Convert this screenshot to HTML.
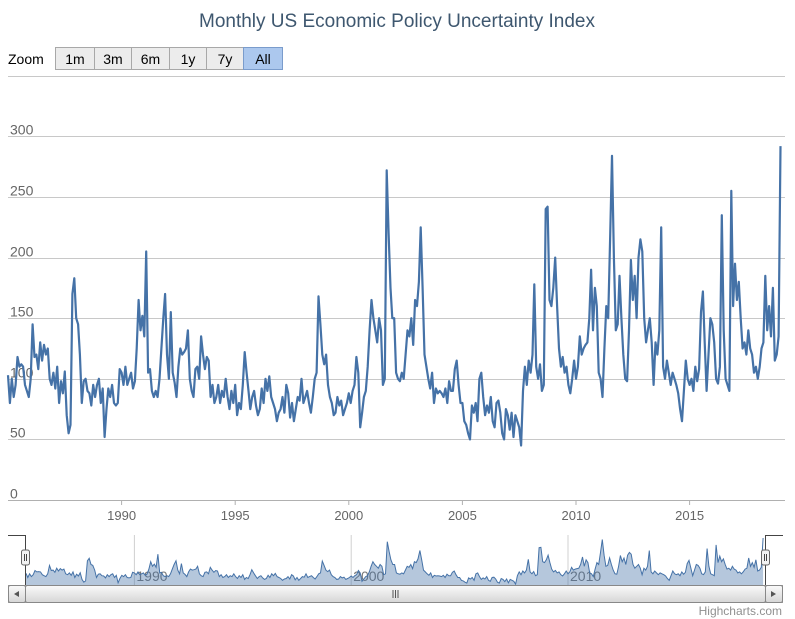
<!DOCTYPE html>
<html><head><meta charset="utf-8"><style>
body{margin:0;background:#fff;width:795px;height:619px;overflow:hidden;font-family:"Liberation Sans",sans-serif}
svg{display:block}
</style></head><body>
<svg id="chart" width="795" height="619" xmlns="http://www.w3.org/2000/svg">
<text x="397" y="27" text-anchor="middle" font-size="19" fill="#3E576F">Monthly US Economic Policy Uncertainty Index</text>
<text x="8" y="64" font-size="14" fill="#000">Zoom</text>
<g id="buttons"></g>
<g id="grid"></g>
<g id="xaxis"></g>
<g id="series"></g>
<g id="nav"></g>
<text x="782" y="615" text-anchor="end" font-size="12" fill="#909090">Highcharts.com</text>
</svg>
<script>
const startYear = 1985;
const values = [
103,80,100,85,95,118,110,112,110,95,90,85,
100,145,118,120,108,130,115,128,120,125,100,95,
105,92,110,80,98,88,106,70,55,62,170,183,
150,145,120,80,98,100,90,88,78,95,85,95,
100,80,92,52,75,92,85,95,80,78,80,108,
105,95,110,95,100,105,92,98,125,165,140,152,
135,205,105,108,90,85,90,85,100,125,150,170,
120,100,155,105,97,85,110,125,120,122,125,140,
100,90,85,108,110,100,135,120,108,118,115,85,
95,80,85,95,80,90,85,100,85,75,90,80,
95,70,80,75,95,122,105,90,75,85,90,78,
70,75,92,80,100,90,102,85,80,75,65,72,
75,85,72,95,88,68,80,65,75,85,82,100,
80,85,90,80,72,85,100,105,168,145,120,112,
120,95,85,80,70,72,85,78,82,70,75,80,
88,80,90,95,118,105,60,72,85,90,110,140,
165,150,140,130,150,140,95,100,272,220,175,150,
150,105,100,98,105,100,120,140,135,150,128,165,
160,180,225,175,120,110,100,92,105,80,92,88,
90,88,85,92,80,98,90,90,108,115,95,80,
80,65,62,55,50,78,72,80,65,100,105,85,
70,78,72,85,65,60,80,82,72,55,50,75,
70,58,72,52,70,65,60,45,90,110,95,115,
105,120,178,110,100,112,90,95,240,242,165,160,
175,200,160,125,110,118,105,110,95,88,100,115,
100,110,135,120,125,128,130,150,190,140,175,160,
105,100,85,125,160,150,215,284,200,140,145,185,
150,120,100,98,140,198,165,185,150,200,215,205,
150,130,140,150,130,95,130,120,140,225,110,100,
115,105,95,105,100,95,88,75,65,90,115,100,
95,100,90,110,98,108,155,172,130,90,120,150,
145,130,100,96,110,235,140,100,95,90,255,160,
195,165,180,150,125,130,120,140,125,120,105,110,
100,110,125,130,185,140,160,135,175,115,120,135,
292
];
const yTicks = [0,50,100,150,200,250,300,350];
const xTicks = [1990,1995,2000,2005,2010,2015];
const navTicks = [1990,2000,2010];
const buttonLabels = ['1m','3m','6m','1y','7y','All'];

const NS='http://www.w3.org/2000/svg';
function mk(tag,attrs,parent){const e=document.createElementNS(NS,tag);for(const k in attrs)e.setAttribute(k,attrs[k]);parent.appendChild(e);return e;}
const xS=t=>8+(t-1985)*22.72;
const yS=v=>500-v*1.212;
const nx=t=>26+(t-1985)*21.68;
const ny=v=>585-(v-40)/(292-40)*47;
const tOf=i=>startYear+i/12;

const bx=[55,94,131,169,206,243,282];
const bg=document.getElementById('buttons');
buttonLabels.forEach((l,i)=>{
  const sel=i===buttonLabels.length-1;
  const r=mk('rect',{x:bx[i]+0.5,y:47.5,width:bx[i+1]-bx[i],height:22,fill:sel?'#acc8ee':'#ececec',stroke:sel?'#7a9ccc':'#a8a8a8'},bg);
  
  
  const t=mk('text',{x:(bx[i]+bx[i+1])/2+0.5,y:64,'text-anchor':'middle','font-size':14,fill:'#000'},bg);
  t.textContent=l;
  
  
});

const g=document.getElementById('grid');
yTicks.forEach(v=>{
  const y=Math.round(yS(v))+0.5;
  const ln=mk('line',{x1:8,x2:785,y1:y,y2:y,stroke:'#c8c8c8','stroke-width':1},g);
  
  
  if(v<350){
    const t=mk('text',{x:10,y:y-2,'font-size':14,fill:'#666'},g);
    t.textContent=v;
    
    
  }
});
const xa=document.getElementById('xaxis');
mk('line',{x1:8,x2:785,y1:500.5,y2:500.5,stroke:'#b0b0b0'},xa);
xTicks.forEach(yr=>{
  const x=xS(yr);
  mk('line',{x1:x,x2:x,y1:500,y2:505,stroke:'#b0b0b0'},xa);
  const t=mk('text',{x:x,y:520,'text-anchor':'middle','font-size':13,fill:'#666'},xa);
  t.textContent=yr;
  
  
});

const s=document.getElementById('series');
let d=values.map((v,i)=>(i?'L':'M')+xS(tOf(i)).toFixed(1)+','+yS(v).toFixed(1)).join('');
const p=mk('path',{d:d,fill:'none',stroke:'#4572A7','stroke-width':2.2,'stroke-linejoin':'round'},s);



const n=document.getElementById('nav');
navTicks.forEach(yr=>{const x=nx(yr);mk('line',{x1:x,x2:x,y1:535,y2:585,stroke:'#d0d0d0'},n);const t=mk('text',{x:x+2,y:581,'font-size':14,fill:'#777'},n);t.textContent=yr;});
let nd=values.map((v,i)=>(i?'L':'M')+nx(tOf(i)).toFixed(1)+','+ny(v).toFixed(1)).join('');
const area=mk('path',{d:nd+'L'+nx(tOf(values.length-1)).toFixed(1)+',585L26,585Z',fill:'rgba(69,114,167,0.4)',stroke:'none'},n);


const nline=mk('path',{d:nd,fill:'none',stroke:'#4572A7','stroke-width':1},n);


mk('path',{d:'M8,535.5H25.5V585M765.5,585V535.5H783',fill:'none',stroke:'#444','stroke-width':1},n);
[25.5,765.5].forEach((x,i)=>{
  const h=mk('rect',{x:x-4,y:550,width:8,height:15,rx:2,fill:'#f2f2f2',stroke:'#666'},n);
  
  
  mk('line',{x1:x-1,x2:x-1,y1:554,y2:561,stroke:'#444'},n);
  mk('line',{x1:x+1,x2:x+1,y1:554,y2:561,stroke:'#444'},n);
});
const defs=mk('defs',{},n);
const lg=mk('linearGradient',{id:'sg',x1:0,y1:0,x2:0,y2:1},defs);
mk('stop',{offset:0,'stop-color':'#fafafa'},lg);mk('stop',{offset:1,'stop-color':'#d6d6d6'},lg);
const track=mk('rect',{x:8.5,y:585.5,width:774,height:17,fill:'#eeeeee',stroke:'#999'},n);


const thumb=mk('rect',{x:25.5,y:585.5,width:740,height:17,rx:2,fill:'url(#sg)',stroke:'#888'},n);


[[8.5,'scroll-left-button','M19,591L14,594L19,597Z'],[765.5,'scroll-right-button','M771,591L776,594L771,597Z']].forEach(a=>{
  const b=mk('rect',{x:a[0],y:585.5,width:17,height:17,rx:2,fill:'url(#sg)',stroke:'#888'},n);
  
  
  mk('path',{d:a[2],fill:'#555'},n);
});
[393,395.5,398].forEach(x=>mk('line',{x1:x,x2:x,y1:590,y2:598,stroke:'#555'},n));
</script>
</body></html>
